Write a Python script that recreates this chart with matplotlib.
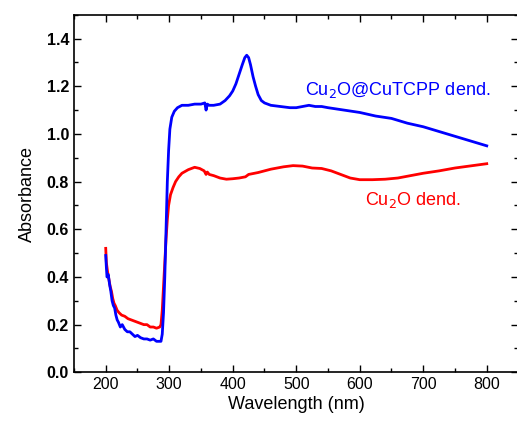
import numpy as np
import matplotlib
matplotlib.use("Agg")
import matplotlib.pyplot as plt
from matplotlib.ticker import MultipleLocator

plt.rcParams["font.family"] = ["Liberation Sans", "DejaVu Sans"]

# Cu2O@CuTCPP dendrites (blue)
wl_blue = [200, 201, 202, 204, 206, 208, 210, 212, 214, 216, 218, 220, 223, 226, 230,
           234, 238, 242, 246, 250, 255, 260, 265, 270, 275, 280, 284, 287, 289,
           291, 293, 295, 297, 299, 301, 304, 308, 313, 320, 330, 340, 350, 356,
           358, 360, 363, 370, 380, 388, 395, 400, 405, 410, 415, 419, 422, 425,
           428, 432, 436, 440, 445, 450, 460, 475, 490, 500, 510, 520, 530, 540,
           550, 575, 600, 625, 650, 675, 700, 725, 750, 775, 800]
abs_blue = [0.49, 0.44, 0.40, 0.41, 0.37, 0.34, 0.30, 0.28, 0.27, 0.24, 0.22, 0.21, 0.19, 0.20, 0.18,
            0.17, 0.17, 0.16, 0.15, 0.155, 0.145, 0.14, 0.14, 0.135, 0.14, 0.13, 0.13, 0.13, 0.16,
            0.25, 0.40, 0.60, 0.80, 0.93, 1.02, 1.07, 1.095, 1.11, 1.12, 1.12, 1.125, 1.125, 1.13,
            1.10, 1.125, 1.12, 1.12, 1.125, 1.14, 1.16, 1.18, 1.21, 1.25, 1.29, 1.32, 1.33, 1.32,
            1.29, 1.24, 1.20, 1.165, 1.14, 1.13, 1.12, 1.115, 1.11, 1.11, 1.115, 1.12, 1.115, 1.115,
            1.11, 1.10, 1.09, 1.075, 1.065, 1.045, 1.03, 1.01, 0.99, 0.97, 0.95]

# Cu2O dendrites (red)
wl_red = [200, 201, 203, 205, 207, 209, 211, 213, 215, 218, 221, 225, 230, 235, 240,
          245, 250, 255, 260, 265, 270, 275, 280, 285, 287, 289, 291, 293, 295,
          297, 299, 302, 306, 310, 315, 320, 330, 340, 348, 355, 358, 360, 363,
          370, 380, 390, 400, 410, 420, 425, 440, 460, 480, 495, 510, 525, 540,
          555, 570, 585, 600, 620, 640, 660, 680, 700, 725, 750, 775, 800]
abs_red = [0.52, 0.46, 0.42, 0.39, 0.36, 0.34, 0.31, 0.29, 0.28, 0.26, 0.25, 0.24, 0.235, 0.225, 0.22,
           0.215, 0.21, 0.205, 0.20, 0.20, 0.19, 0.19, 0.185, 0.19, 0.20, 0.26, 0.36, 0.46, 0.56,
           0.64, 0.70, 0.745, 0.775, 0.80, 0.82, 0.835, 0.85, 0.86, 0.855, 0.845, 0.83, 0.84, 0.83,
           0.825, 0.815, 0.81, 0.812, 0.815, 0.82, 0.83, 0.838, 0.852, 0.862, 0.867, 0.865, 0.857, 0.855,
           0.845, 0.83, 0.815, 0.808, 0.808, 0.81, 0.815, 0.825, 0.835, 0.845, 0.857, 0.866, 0.875]

fig = plt.figure(figsize=(5.17, 4.24), dpi=100)
ax = fig.add_axes([0.1431, 0.1219, 0.8598, 0.8434])

ax.plot(wl_red, abs_red, color="#ff0000", lw=2)
ax.plot(wl_blue, abs_blue, color="#0000ff", lw=2)

ax.set_xlim(150, 850)
ax.set_ylim(0, 1.5)
ax.xaxis.set_major_locator(MultipleLocator(100))
ax.xaxis.set_minor_locator(MultipleLocator(50))
ax.yaxis.set_major_locator(MultipleLocator(0.2))
ax.yaxis.set_minor_locator(MultipleLocator(0.1))
ax.set_xticks([200, 300, 400, 500, 600, 700, 800])
ax.set_yticks([0.0, 0.2, 0.4, 0.6, 0.8, 1.0, 1.2, 1.4])
ax.set_yticklabels(["0.0", "0.2", "0.4", "0.6", "0.8", "1.0", "1.2", "1.4"], fontweight="bold")

ax.tick_params(which="both", direction="in", top=True, right=True, labelsize=11.5)
ax.tick_params(which="major", length=5, width=1)
ax.tick_params(which="minor", length=3, width=1)
for s in ax.spines.values():
    s.set_linewidth(1.2)

ax.set_xlabel("Wavelength (nm)", fontsize=13, labelpad=3)
ax.set_ylabel("Absorbance", fontsize=13, labelpad=8)

ax.text(514, 1.183, "Cu$_2$O@CuTCPP dend.", color="#0000ff", fontsize=13, va="center")
ax.text(608, 0.722, "Cu$_2$O dend.", color="#ff0000", fontsize=13, va="center")

fig.savefig("out.png", dpi=100)
